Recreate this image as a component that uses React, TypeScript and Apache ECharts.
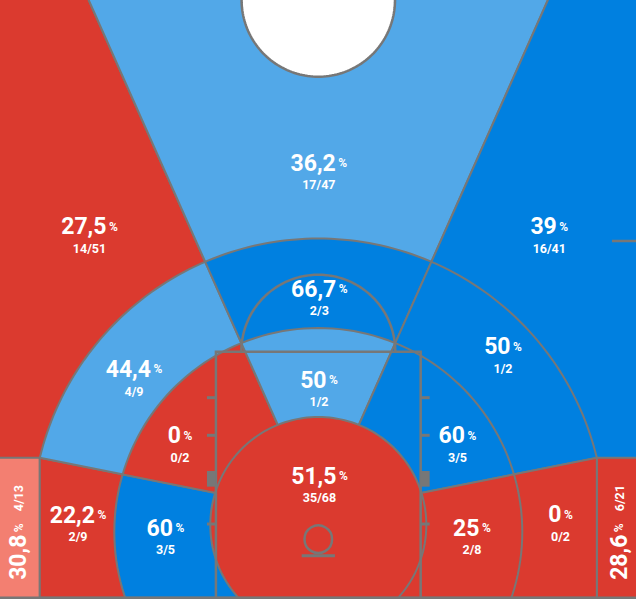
import React, { useEffect, useRef } from "react";
import * as echarts from "echarts";

type Pt = [number, number];

// ---------------- data ----------------
const ZONES = [
  "3PT Left Corner",
  "3PT Left Wing",
  "3PT Top",
  "3PT Right Wing",
  "3PT Right Corner",
  "Long Mid Left Baseline",
  "Long Mid Left Wing",
  "Long Mid Top",
  "Long Mid Right Wing",
  "Long Mid Right Baseline",
  "Short Mid Left Baseline",
  "Short Mid Left Wing",
  "Short Mid Top",
  "Short Mid Right Wing",
  "Short Mid Right Baseline",
  "Restricted Area",
];
const MADE = [4, 14, 17, 16, 6, 2, 4, 2, 1, 0, 3, 0, 1, 3, 2, 35];
const ATTEMPTS = [13, 51, 47, 41, 21, 9, 9, 3, 2, 2, 5, 2, 2, 5, 8, 68];
const RATING = [
  "low", "cold", "avg", "hot", "cold",
  "cold", "avg", "hot", "hot", "cold",
  "hot", "cold", "avg", "hot", "cold",
  "cold",
];

// ---------------- styling / layout ----------------
const RATING_COLORS: Record<string, string> = {
  cold: "#DB3A2F",
  low: "#F37F71",
  avg: "#52A8E8",
  hot: "#0080E0",
};
const LINE = "#777777";
const FONT = "Roboto";

// label anchors in court metres (layout only)
const LABEL_POS: Pt[] = [
  [-7.172, 1.56], [-5.474, 8.617], [0.012, 10.136], [5.526, 8.617], [7.194, 1.56],
  [-5.749, 1.715], [-4.409, 5.201], [0.024, 7.122], [4.419, 5.746], [5.794, 1.727],
  [-3.656, 1.404], [-3.309, 3.617], [0.017, 4.945], [3.33, 3.617], [3.677, 1.404],
  [0.029, 2.648],
];
const ROTATED_LABELS = [0, 4];
const DRAW_ORDER = [1, 2, 3, 0, 4, 5, 6, 7, 8, 9, 10, 11, 12, 13, 14, 15];

// ---------------- court geometry (metres, baseline y = 0) ----------------
const X_MIN = -7.6148;
const X_MAX = 7.6005;
const Y_MIN = -0.0311;
const Y_MAX = 14.299;
const RIM_ZONE_C: Pt = [0, 1.739];
const R_RESTRICTED = 2.584;
const MID_C: Pt = [0, 1.572];
const R_MID = 4.88;
const R_THREE = 6.854;
const CORNER_X = 6.663;
const CORNER_Y = RIM_ZONE_C[1] + Math.sqrt(R_THREE * R_THREE - CORNER_X * CORNER_X);
const DIV_O: Pt = [0, 1.955];
const DIV_SLOPE = 0.445;
const BASE_A: Pt = [-CORNER_X, CORNER_Y];
const BASE_B: Pt = [-2.449, 2.505];
const PAINT_HALF = 2.449;
const PAINT_LEN = 5.885;
const FT_R = 1.842;
const HASH_LEN = 0.215;
const HASH_Y = [4.785, 3.885, 1.763];
const BLOCK_Y: Pt = [2.656, 3.031];
const RING_C: Pt = [0, 1.4];
const RING_R = 0.33;
const BOARD_Y = 1.005;
const BOARD_HALF = 0.398;
const CENTER_C: Pt = [0, Y_MAX];
const CENTER_R = 1.835;
const THROW_IN: Pt = [7.026, 8.533];

function arcPts(c: Pt, r: number, a0: number, a1: number, n = 120): Pt[] {
  const out: Pt[] = [];
  for (let k = 0; k <= n; k++) {
    const a = a0 + ((a1 - a0) * k) / n;
    out.push([c[0] + r * Math.cos(a), c[1] + r * Math.sin(a)]);
  }
  return out;
}

function clip(poly: Pt[], f: (p: Pt) => number): Pt[] {
  const out: Pt[] = [];
  for (let i = 0; i < poly.length; i++) {
    const a = poly[i];
    const b = poly[(i + 1) % poly.length];
    const fa = f(a);
    const fb = f(b);
    if (fa >= 0) out.push(a);
    if (fa >= 0 !== fb >= 0) {
      const t = fa / (fa - fb);
      out.push([a[0] + t * (b[0] - a[0]), a[1] + t * (b[1] - a[1])]);
    }
  }
  return out;
}

const leftOfL = (p: Pt) => -DIV_SLOPE * (p[1] - DIV_O[1]) - p[0];
const rightOfL = (p: Pt) => -leftOfL(p);
const rightOfR = (p: Pt) => p[0] - DIV_SLOPE * (p[1] - DIV_O[1]);
const leftOfR = (p: Pt) => -rightOfR(p);
const ybl = (x: number) =>
  BASE_A[1] + ((x - BASE_A[0]) * (BASE_B[1] - BASE_A[1])) / (BASE_B[0] - BASE_A[0]);
const aboveBL = (p: Pt) => p[1] - ybl(p[0]);
const belowBL = (p: Pt) => -aboveBL(p);
const aboveBR = (p: Pt) => p[1] - ybl(-p[0]);
const belowBR = (p: Pt) => -aboveBR(p);
const xNeg = (p: Pt) => -p[0];
const xPos = (p: Pt) => p[0];
const yPos = (p: Pt) => p[1];

const cornerAng = Math.atan2(CORNER_Y - RIM_ZONE_C[1], CORNER_X);
const S3: Pt[] = [
  [-CORNER_X, 0],
  ...arcPts(RIM_ZONE_C, R_THREE, Math.PI - cornerAng, cornerAng),
  [CORNER_X, 0],
];
const S2: Pt[] = clip(arcPts(MID_C, R_MID, 0, Math.PI * 2, 180), yPos);
const S1: Pt[] = clip(arcPts(RIM_ZONE_C, R_RESTRICTED, 0, Math.PI * 2, 180), yPos);
const BIG: Pt[] = [[-9, -1], [-9, 16], [9, 16], [9, -1]];

function zonePolygon(i: number): Pt[] {
  if (i === 0) return [[-9, -1], [-9, CORNER_Y], [-CORNER_X, CORNER_Y], [-CORNER_X, -1]];
  if (i === 4) return [[9, -1], [9, CORNER_Y], [CORNER_X, CORNER_Y], [CORNER_X, -1]];
  if (i === 1) return clip(BIG, leftOfL);
  if (i === 2) return clip(clip(BIG, rightOfL), leftOfR);
  if (i === 3) return clip(BIG, rightOfR);
  if (i === 15) return S1;
  const ring = i < 10 ? S3 : S2;
  const k = (i - 5) % 5;
  if (k === 0) return clip(clip(ring, belowBL), xNeg);
  if (k === 1) return clip(clip(ring, aboveBL), leftOfL);
  if (k === 2) return clip(clip(ring, rightOfL), leftOfR);
  if (k === 3) return clip(clip(ring, aboveBR), rightOfR);
  return clip(clip(ring, belowBR), xPos);
}

function fmtPct(m: number, a: number): string {
  const v = Math.round((m / a) * 1000) / 10;
  return String(v).replace(".", ",");
}

const RICH = {
  n: { fontSize: 23, fontWeight: "bold", fontFamily: FONT, fill: "#fff", verticalAlign: "middle" },
  p: { fontSize: 12, fontWeight: "bold", fontFamily: FONT, fill: "#fff", verticalAlign: "middle", padding: [0, 0, 0, 2.5] },
  f: { fontSize: 12.5, fontWeight: "bold", fontFamily: FONT, fill: "#fff", verticalAlign: "middle", padding: [0, 0, 0, 12] },
};

export default function App() {
  const ref = useRef<HTMLDivElement>(null);

  useEffect(() => {
    document.body.style.margin = "0";
    const chart = echarts.init(ref.current!, undefined, { renderer: "svg" });

    const option: any = {
      animation: false,
      grid: { left: 0, right: 0, top: 0, bottom: 0 },
      xAxis: { type: "value", min: X_MIN, max: X_MAX, show: false },
      yAxis: { type: "value", min: Y_MIN, max: Y_MAX, show: false },
      tooltip: { show: false },
      series: [
        {
          name: "zones",
          type: "custom",
          coordinateSystem: "cartesian2d",
          silent: true,
          clip: true,
          data: DRAW_ORDER.map((i) => [LABEL_POS[i][0], LABEL_POS[i][1], i]),
          renderItem: (_params: any, api: any) => {
            const i = api.value(2) as number;
            const pts = zonePolygon(i).map((p) => api.coord(p));
            return {
              type: "polygon",
              shape: { points: pts },
              style: { fill: RATING_COLORS[RATING[i]], stroke: LINE, lineWidth: 2 },
            };
          },
        },
        {
          name: "court",
          type: "custom",
          coordinateSystem: "cartesian2d",
          silent: true,
          clip: true,
          data: [[0, 0]],
          renderItem: (_params: any, api: any) => {
            const c = (p: Pt) => api.coord(p);
            const ln = (a: Pt, b: Pt, w = 2.5) => ({
              type: "line",
              shape: { x1: c(a)[0], y1: c(a)[1], x2: c(b)[0], y2: c(b)[1] },
              style: { stroke: LINE, lineWidth: w },
            });
            const children: any[] = [];
            // center circle
            children.push({
              type: "polygon",
              shape: { points: arcPts(CENTER_C, CENTER_R, 0, Math.PI * 2, 180).map(c) },
              style: { fill: "#ffffff", stroke: LINE, lineWidth: 2.5 },
            });
            // paint
            children.push({
              type: "polyline",
              shape: {
                points: ([[-PAINT_HALF, 0], [-PAINT_HALF, PAINT_LEN], [PAINT_HALF, PAINT_LEN], [PAINT_HALF, 0]] as Pt[]).map(c),
              },
              style: { stroke: LINE, lineWidth: 2.5, fill: "none" },
            });
            // free throw semicircle
            children.push({
              type: "polyline",
              shape: { points: arcPts([0, PAINT_LEN], FT_R, Math.PI, 0).map(c) },
              style: { stroke: LINE, lineWidth: 2.5, fill: "none" },
            });
            // hash marks and blocks
            for (const s of [-1, 1]) {
              for (const hy of HASH_Y) {
                children.push(ln([s * PAINT_HALF, hy], [s * (PAINT_HALF + HASH_LEN), hy], 3));
              }
              children.push({
                type: "polygon",
                shape: {
                  points: ([
                    [s * PAINT_HALF, BLOCK_Y[0]],
                    [s * (PAINT_HALF + HASH_LEN), BLOCK_Y[0]],
                    [s * (PAINT_HALF + HASH_LEN), BLOCK_Y[1]],
                    [s * PAINT_HALF, BLOCK_Y[1]],
                  ] as Pt[]).map(c),
                },
                style: { fill: LINE, stroke: "none" },
              });
            }
            // backboard and ring
            children.push(ln([-BOARD_HALF, BOARD_Y], [BOARD_HALF, BOARD_Y], 3));
            const rc = c(RING_C);
            const rr = api.size([RING_R, 0])[0];
            children.push({
              type: "circle",
              shape: { cx: rc[0], cy: rc[1], r: rr },
              style: { fill: "none", stroke: LINE, lineWidth: 2.5 },
            });
            // throw-in line
            children.push(ln(THROW_IN, [9, THROW_IN[1]], 2.7));
            // baseline
            children.push(ln([-9, 0], [9, 0], 2.5));
            return { type: "group", children };
          },
        },
        {
          name: "labels",
          type: "custom",
          coordinateSystem: "cartesian2d",
          silent: true,
          clip: false,
          data: ZONES.map((_, i) => [LABEL_POS[i][0], LABEL_POS[i][1], i]),
          renderItem: (_params: any, api: any) => {
            const i = api.value(2) as number;
            const p = api.coord([api.value(0), api.value(1)]);
            const pct = fmtPct(MADE[i], ATTEMPTS[i]);
            const frac = `${MADE[i]}/${ATTEMPTS[i]}`;
            if (ROTATED_LABELS.includes(i)) {
              return {
                type: "text",
                x: p[0],
                y: p[1],
                rotation: Math.PI / 2,
                style: {
                  text: `{n|${pct}}{p|%}{f|${frac}}`,
                  rich: RICH,
                  align: "center",
                  verticalAlign: "middle",
                  fill: "#fff",
                },
              };
            }
            return {
              type: "group",
              children: [
                {
                  type: "text",
                  x: p[0],
                  y: p[1] - 10.8,
                  style: {
                    text: `{n|${pct}}{p|%}`,
                    rich: RICH,
                    align: "center",
                    verticalAlign: "middle",
                    fill: "#fff",
                  },
                },
                {
                  type: "text",
                  x: p[0],
                  y: p[1] + 10.8,
                  style: {
                    text: frac,
                    fill: "#fff",
                    font: `bold 12.5px ${FONT}`,
                    align: "center",
                    verticalAlign: "middle",
                  },
                },
              ],
            };
          },
        },
      ],
    };

    chart.setOption(option);
    return () => chart.dispose();
  }, []);

  return (
    <div
      ref={ref}
      style={{ position: "absolute", left: 0, top: 0, width: 636, height: 599 }}
    />
  );
}
